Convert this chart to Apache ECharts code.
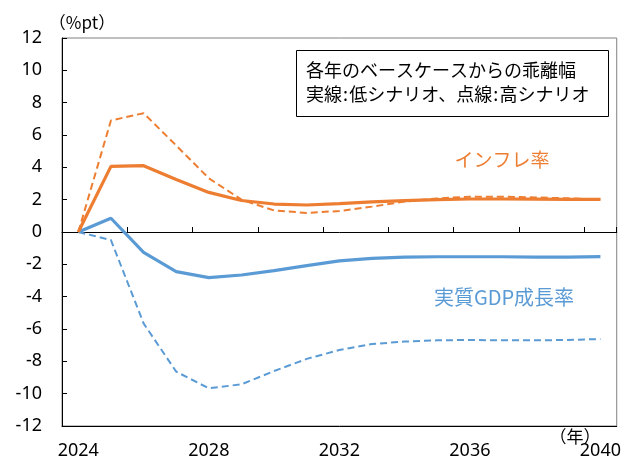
<!DOCTYPE html>
<html><head><meta charset="utf-8">
<script src="https://cdn.jsdelivr.net/npm/echarts@6/dist/echarts.min.js"></script>
<style>html,body{margin:0;padding:0;background:#fff}#c{width:624px;height:464px}</style>
</head><body><div id="c"></div>
<script>
var years = ['2024','2025','2026','2027','2028','2029','2030','2031','2032','2033','2034','2035','2036','2037','2038','2039','2040'];
var inflLow  = [0, 4.06, 4.1, 3.25, 2.45, 1.95, 1.73, 1.67, 1.75, 1.86, 1.94, 2.0, 2.04, 2.04, 2.03, 2.02, 2.02];
var inflHigh = [0, 6.9, 7.35, 5.35, 3.32, 2.0, 1.33, 1.18, 1.3, 1.57, 1.88, 2.08, 2.18, 2.18, 2.14, 2.08, 2.02];
var gdpLow   = [0, 0.85, -1.26, -2.45, -2.82, -2.66, -2.39, -2.08, -1.79, -1.63, -1.56, -1.53, -1.53, -1.53, -1.55, -1.55, -1.52];
var gdpHigh  = [0, -0.5, -5.65, -8.64, -9.67, -9.42, -8.6, -7.85, -7.3, -6.93, -6.78, -6.7, -6.68, -6.7, -6.7, -6.68, -6.62];
var yTicks = {min: -12, max: 12, step: 2};
var xLabelYears = ['2024','2028','2032','2036','2040'];

var ORANGE = '#ED7D31', BLUE = '#5B9BD5';
var chart = echarts.init(document.getElementById('c'), null, {renderer: 'canvas'});
var numFont = 'Noto Sans';
var jpFont = '"Noto Sans CJK JP"';
chart.setOption({
  animation: false,
  grid: {left: 62, top: 38, right: 7, bottom: 38, show: true, borderColor: '#808080', borderWidth: 1},
  xAxis: [{
    type: 'category', data: years, position: 'bottom', boundaryGap: true,
    axisLine: {onZero: false, lineStyle: {color: '#000', width: 1}},
    axisTick: {show: false},
    axisLabel: {
      interval: 0, margin: 16, color: '#000', fontFamily: numFont, fontSize: 18,
      formatter: function (v) { return xLabelYears.indexOf(v) >= 0 ? v : ''; }
    },
    splitLine: {show: false}
  }, {
    type: 'category', data: years, position: 'top', boundaryGap: true,
    axisLine: {onZero: true, lineStyle: {color: '#000', width: 1}},
    axisTick: {show: true, inside: false, length: 5, lineStyle: {color: '#000'}},
    axisLabel: {show: false},
    splitLine: {show: false}
  }],
  yAxis: {
    type: 'value', min: yTicks.min, max: yTicks.max, interval: yTicks.step,
    axisLine: {show: true, lineStyle: {color: '#000'}},
    axisTick: {show: true, inside: true, length: 5, lineStyle: {color: '#000'}},
    axisLabel: {color: '#000', fontFamily: numFont, fontSize: 18, margin: 20},
    splitLine: {show: false}
  },
  series: [
    {type: 'line', data: gdpHigh, symbol: 'none', lineStyle: {color: BLUE, width: 2, type: [7, 4]}, z: 2},
    {type: 'line', data: gdpLow, symbol: 'none', lineStyle: {color: BLUE, width: 3.2}, z: 3},
    {type: 'line', data: inflHigh, symbol: 'none', lineStyle: {color: ORANGE, width: 2, type: [7, 4]}, z: 4},
    {type: 'line', data: inflLow, symbol: 'none', lineStyle: {color: ORANGE, width: 3.2}, z: 5}
  ],
  graphic: [
    {type: 'rect', shape: {x: 296.5, y: 50.5, width: 312, height: 66}, style: {fill: '#fff', stroke: '#000', lineWidth: 1}, z: 10},
    {type: 'text', x: 306, y: 70, style: {text: '各年のベースケースからの乖離幅', font: '18px ' + jpFont, fill: '#000', textVerticalAlign: 'middle'}, z: 11},
    {type: 'text', x: 306, y: 94, style: {text: '実線\u200a:\u200a低シナリオ、点線\u200a:\u200a高シナリオ', font: '18px ' + jpFont, fill: '#000', textVerticalAlign: 'middle'}, z: 11},
    {type: 'text', x: 502, y: 160, style: {text: 'インフレ率', font: '19px ' + jpFont, fill: ORANGE, textAlign: 'center', textVerticalAlign: 'middle'}, z: 11},
    {type: 'text', x: 504, y: 297, style: {text: '実質GDP成長率', font: '20px ' + jpFont, fill: BLUE, textAlign: 'center', textVerticalAlign: 'middle'}, z: 11},
    {type: 'text', x: 82, y: 23, style: {text: '（%pt）', font: '17px ' + jpFont, fill: '#000', textAlign: 'center', textVerticalAlign: 'middle'}, z: 11},
    {type: 'text', x: 575, y: 437, style: {text: '（年）', font: '17px ' + jpFont, fill: '#000', textAlign: 'center', textVerticalAlign: 'middle'}, z: 11}
  ]
});
</script>
</body></html>
